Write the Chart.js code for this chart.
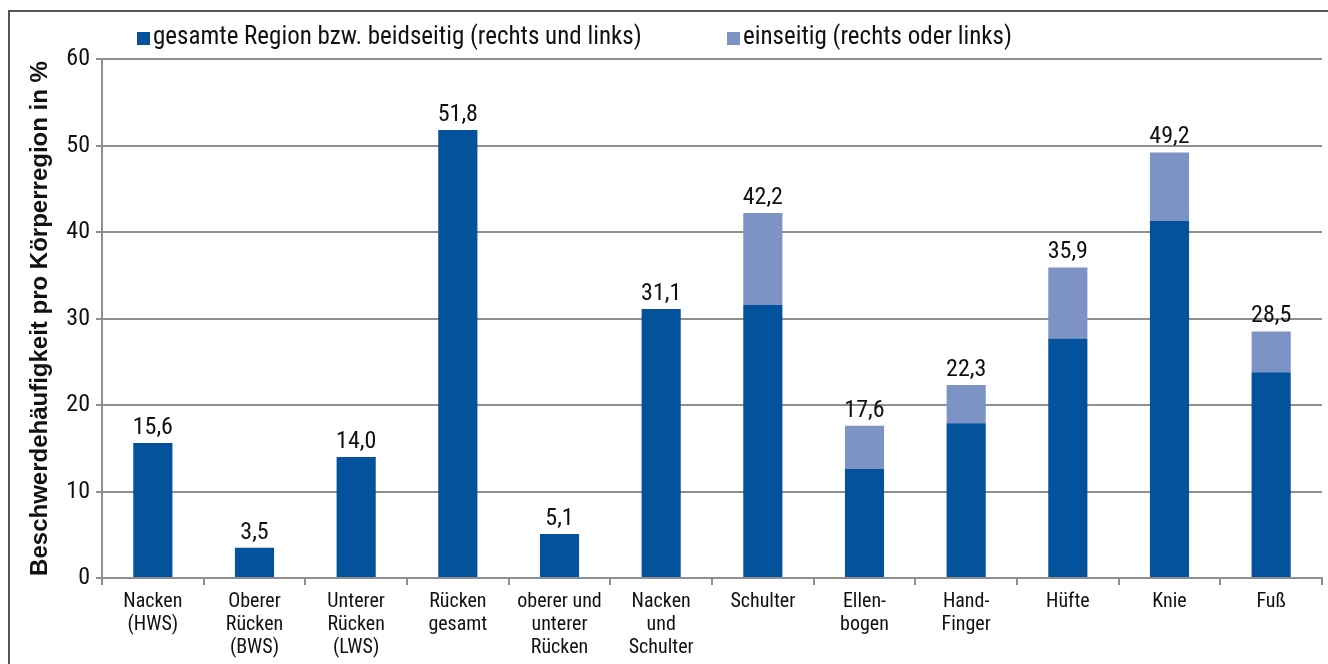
<!DOCTYPE html>
<html lang="de">
<head>
  <meta charset="UTF-8" />
  <title>Beschwerdehäufigkeit pro Körperregion</title>
  <script src="https://cdn.jsdelivr.net/npm/chart.js"></script>
  <style>
    body {
      margin: 0;
      background: #fff;
    }
    #wrap {
      position: relative;
      width: 1328px;
      height: 664px;
      overflow: hidden;
    }
    #frame {
      position: absolute;
      left: 8px;
      top: 10px;
      width: 1400px;
      height: 700px;
      border: 2px solid #555;
    }
    canvas {
      position: absolute;
      left: 0;
      top: 0;
    }
  </style>
</head>
<body>

<div id="wrap">
  <div id="frame"></div>
  <canvas id="chart" width="1328" height="664"></canvas>
</div>

<script>
  const categories = [
    ['Nacken', '(HWS)'],
    ['Oberer', 'Rücken', '(BWS)'],
    ['Unterer', 'Rücken', '(LWS)'],
    ['Rücken', 'gesamt'],
    ['oberer und', 'unterer', 'Rücken'],
    ['Nacken', 'und', 'Schulter'],
    'Schulter',
    ['Ellen-', 'bogen'],
    ['Hand-', 'Finger'],
    'Hüfte',
    'Knie',
    'Fuß'
  ];
  const beidseitig = [15.6, 3.5, 14.0, 51.8, 5.1, 31.1, 31.6, 12.6, 17.9, 27.7, 41.3, 23.8];
  const einseitig = [0, 0, 0, 0, 0, 0, 10.6, 5.0, 4.4, 8.2, 7.9, 4.7];
  const totalLabels = ['15,6', '3,5', '14,0', '51,8', '5,1', '31,1', '42,2', '17,6', '22,3', '35,9', '49,2', '28,5'];
  const yTicks = [0, 10, 20, 30, 40, 50, 60];

  const darkBlue = '#03529b';
  const lightBlue = '#7d93c5';
  const textFont = "'Liberation Sans Narrow', 'Roboto Condensed', 'Noto Sans', sans-serif";

  // totals above each stacked bar
  const totalsPlugin = {
    id: 'totals',
    afterDatasetsDraw(chart) {
      const ctx = chart.ctx;
      const top = chart.getDatasetMeta(1).data;
      const bottom = chart.getDatasetMeta(0).data;
      ctx.save();
      ctx.font = '24px ' + textFont;
      ctx.fillStyle = '#111';
      ctx.textAlign = 'center';
      ctx.textBaseline = 'bottom';
      totalLabels.forEach((t, i) => {
        const bar = einseitig[i] > 0 ? top[i] : bottom[i];
        ctx.fillText(t, bar.x, bar.y - 3);
      });
      ctx.restore();
    }
  };

  // legend spread like the original
  const legendPlugin = {
    id: 'topLegend',
    afterDraw(chart) {
      const ctx = chart.ctx;
      const items = [
        { x: 137, ds: chart.data.datasets[0] },
        { x: 727, ds: chart.data.datasets[1] }
      ];
      ctx.save();
      ctx.font = '25px ' + textFont;
      ctx.textBaseline = 'middle';
      ctx.textAlign = 'left';
      items.forEach(it => {
        ctx.fillStyle = it.ds.backgroundColor;
        ctx.fillRect(it.x, 32, 13, 13);
        ctx.fillStyle = '#111';
        ctx.fillText(it.ds.label, it.x + 16, 38);
      });
      ctx.restore();
    }
  };

  const ctx = document.getElementById('chart').getContext('2d');
  new Chart(ctx, {
    type: 'bar',
    data: {
      labels: categories,
      datasets: [
        { label: 'gesamte Region bzw. beidseitig (rechts und links)', data: beidseitig, backgroundColor: darkBlue },
        { label: 'einseitig (rechts oder links)', data: einseitig, backgroundColor: lightBlue }
      ]
    },
    options: {
      responsive: false,
      animation: false,
      layout: { padding: { left: 22, top: 59, right: 6, bottom: 0 } },
      datasets: {
        bar: { categoryPercentage: 1, barPercentage: 0.385 }
      },
      plugins: {
        legend: { display: false },
        tooltip: { enabled: false }
      },
      scales: {
        x: {
          stacked: true,
          grid: {
            offset: true,
            drawOnChartArea: false,
            color: '#8f8f8f',
            lineWidth: 2,
            tickLength: 7
          },
          border: { color: '#8f8f8f', width: 2 },
          ticks: {
            color: '#111',
            font: { family: textFont, size: 20, lineHeight: 1.15 },
            maxRotation: 0,
            autoSkip: false,
            padding: 5
          }
        },
        y: {
          stacked: true,
          min: 0,
          max: 60,
          afterFit(scale) { scale.width = 80; },
          afterBuildTicks(scale) { scale.ticks = yTicks.map(v => ({ value: v })); },
          grid: {
            color: '#8f8f8f',
            lineWidth: 2,
            tickLength: 6
          },
          border: { color: '#8f8f8f', width: 2 },
          ticks: {
            color: '#111',
            font: { family: textFont, size: 24 },
            padding: 6
          },
          title: {
            display: true,
            text: 'Beschwerdehäufigkeit pro Körperregion in %',
            color: '#111',
            font: { family: "'Liberation Sans', Arial, sans-serif", size: 24, weight: 'bold' },
            padding: { top: 4, bottom: 4 }
          }
        }
      }
    },
    plugins: [totalsPlugin, legendPlugin]
  });
</script>

</body>
</html>
